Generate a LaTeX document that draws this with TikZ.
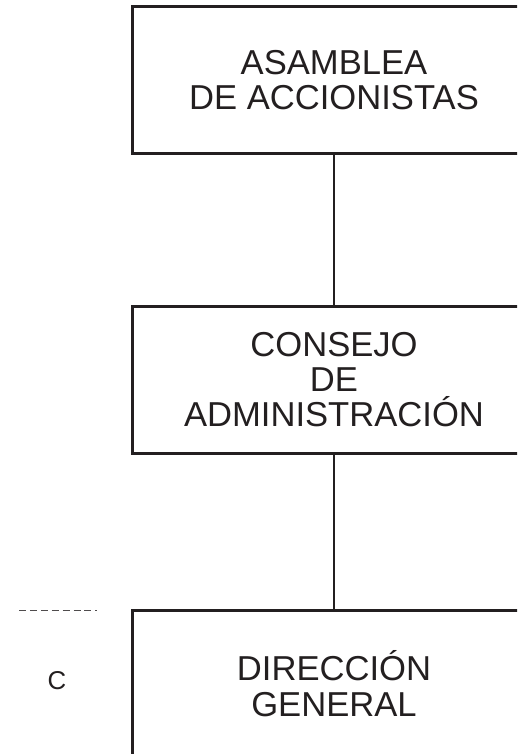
\documentclass[tikz,border=0pt]{standalone}
\usepackage{fontspec}
\setmainfont{Liberation Sans}
\usepackage{tikz}
\definecolor{ink}{HTML}{231F20}

\begin{document}
\begin{tikzpicture}[
  x=1pt, y=-1pt,
  cargo/.style={draw=ink, line width=3pt, text=ink, minimum width=404pt,
    minimum height=147pt, align=center, inner sep=0pt,
    font=\fontsize{34.6}{35}\selectfont},
  enlace/.style={draw=ink, line width=1.5pt},
  guion/.style={draw=ink!80, line width=1pt, dash pattern=on 7pt off 3.9pt}
]
\useasboundingbox (0,0) rectangle (517,754);
\clip (0,0) rectangle (517,754);
\node[cargo] (asamblea) at (334,80.5) {ASAMBLEA\\DE ACCIONISTAS};
\node[cargo] (consejo) at (334,379.5) {CONSEJO\\DE\\ADMINISTRACIÓN};
\node[cargo, font=\fontsize{34.6}{36.5}\selectfont] (direccion) at (334,683.5) {DIRECCIÓN\\GENERAL};
\foreach \a/\b in {asamblea/consejo, consejo/direccion}
  \draw[enlace] (\a) -- (\b);
% linea punteada y letra suelta
\coordinate (guionA) at (19,610);
\coordinate (guionB) at (97,610);
\draw[guion] (guionA) -- (guionB);
\node[text=ink, font=\fontsize{25.8}{28}\selectfont] (letraC) at (57,681) {C};
\end{tikzpicture}
\end{document}
